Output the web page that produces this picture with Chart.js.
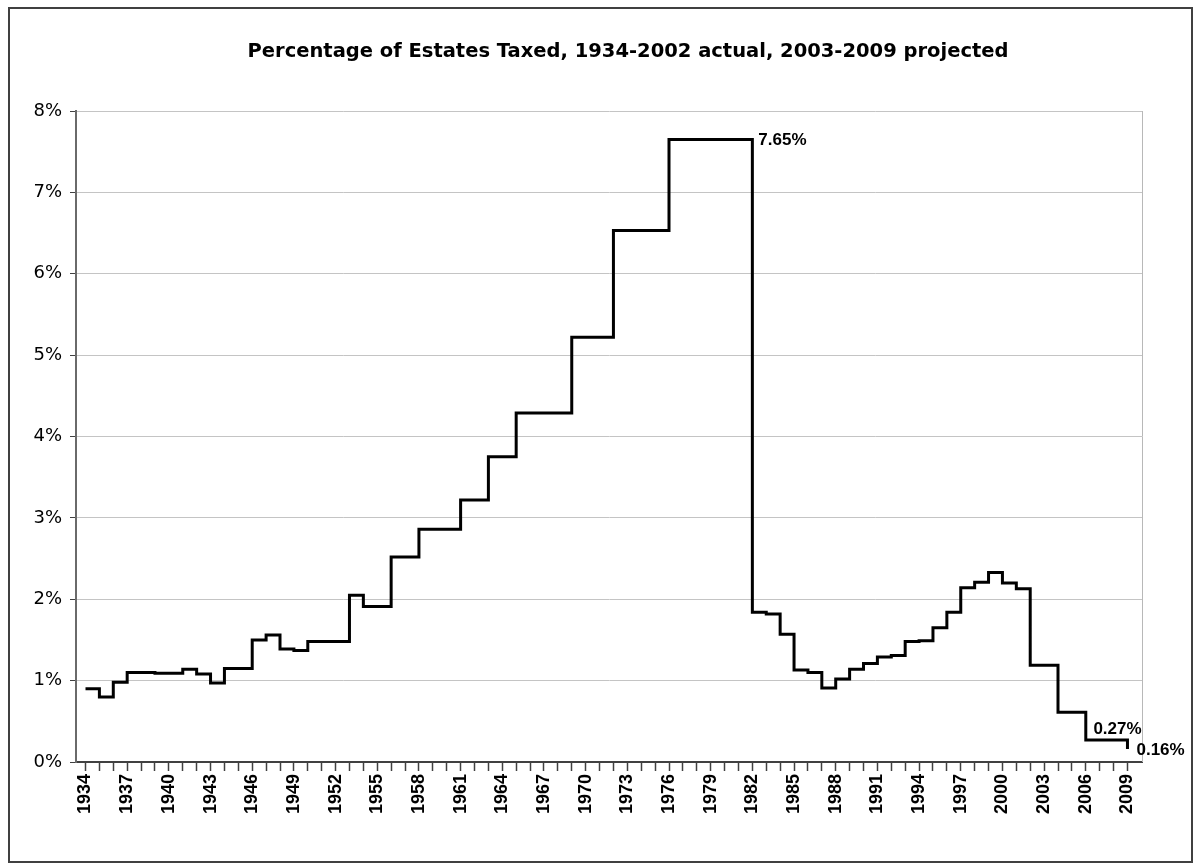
<!DOCTYPE html>
<html><head><meta charset="utf-8">
<script src="https://cdn.jsdelivr.net/npm/chart.js@4"></script>
<style>html,body{margin:0;padding:0;background:#fff}#wrap{position:relative;width:1196px;height:863px}</style>
</head><body><div id="wrap"><canvas id="c"></canvas></div>
<script>
const chartTitle = 'Percentage of Estates Taxed, 1934-2002 actual, 2003-2009 projected';
const years = [1934,1935,1936,1937,1938,1939,1940,1941,1942,1943,1944,1945,1946,1947,1948,1949,1950,1951,1952,1953,
  1954,1955,1956,1957,1958,1959,1960,1961,1962,1963,1964,1965,1966,1967,1968,1969,1970,1971,1972,1973,
  1974,1975,1976,1977,1978,1979,1980,1981,1982,1983,1984,1985,1986,1987,1988,1989,1990,1991,1992,1993,
  1994,1995,1996,1997,1998,1999,2000,2001,2002,2003,2004,2005,2006,2007,2008,2009];
const taxedPct = [0.90,0.80,0.98,1.10,1.10,1.09,1.09,1.14,1.08,0.97,1.15,1.15,1.50,1.56,1.39,1.37,1.48,1.48,1.48,2.05,
  1.91,1.91,2.52,2.52,2.86,2.86,2.86,3.22,3.22,3.75,3.75,4.29,4.29,4.29,4.29,5.22,5.22,5.22,6.53,6.53,
  6.53,6.53,7.65,7.65,7.65,7.65,7.65,7.65,1.84,1.82,1.57,1.13,1.10,0.91,1.02,1.14,1.21,1.29,1.31,1.48,
  1.49,1.65,1.84,2.14,2.21,2.33,2.20,2.13,1.19,1.19,0.61,0.61,0.27,0.27,0.27,0.16];
const yTickValues = [0,1,2,3,4,5,6,7,8];
const labelYearStep = 3;
const labelledYears = [1981, 2008, 2009];
const labelPlacement = ['stepEnd', 'above', 'right'];

const pctLabels = {
  id: 'pctLabels',
  afterDatasetsDraw(chart) {
    const {ctx, scales: {x, y}} = chart;
    ctx.save();
    ctx.font = 'bold 17px "Liberation Sans", Arial, sans-serif';
    ctx.fillStyle = '#000';
    labelledYears.forEach((yr, k) => {
      const i = years.indexOf(yr);
      const v = taxedPct[i];
      const txt = v.toFixed(2) + '%';
      const py = y.getPixelForValue(v);
      const mode = labelPlacement[k];
      if (mode === 'stepEnd') {
        ctx.textAlign = 'left'; ctx.textBaseline = 'middle';
        ctx.fillText(txt, x.getPixelForValue(years[i + 1]) + 6, py + 1);
      } else if (mode === 'above') {
        ctx.textAlign = 'center'; ctx.textBaseline = 'bottom';
        const mid = (x.getPixelForValue(yr) + x.getPixelForValue(years[i + 1])) / 2;
        ctx.fillText(txt, mid - 3, py - 2);
      } else {
        ctx.textAlign = 'left'; ctx.textBaseline = 'middle';
        ctx.fillText(txt, x.getPixelForValue(yr) + 9, py + 1);
      }
    });
    ctx.restore();
  }
};

const frame = {
  id: 'frame',
  beforeDraw(chart) {
    const ctx = chart.ctx;
    ctx.save();
    ctx.fillStyle = '#fff';
    ctx.fillRect(0, 0, chart.width, chart.height);
    ctx.restore();
  },
  beforeDatasetsDraw(chart) {
    const {ctx, chartArea: a} = chart;
    ctx.save();
    ctx.strokeStyle = '#b8b8b8';
    ctx.lineWidth = 1;
    ctx.beginPath();
    ctx.moveTo(a.right + 0.5, a.top);
    ctx.lineTo(a.right + 0.5, a.bottom);
    ctx.stroke();
    ctx.restore();
  },
  afterDraw(chart) {
    const ctx = chart.ctx;
    ctx.save();
    ctx.strokeStyle = '#404040';
    ctx.lineWidth = 2;
    ctx.strokeRect(9, 8, 1183, 854);
    ctx.fillStyle = '#000';
    ctx.font = 'bold 19.5px "DejaVu Sans", Verdana, sans-serif';
    ctx.textAlign = 'center';
    ctx.textBaseline = 'middle';
    ctx.fillText(chartTitle, 628, 52);
    ctx.restore();
  }
};

new Chart(document.getElementById('c'), {
  type: 'line',
  data: {
    datasets: [{
      data: taxedPct.map((v, i) => ({x: years[i], y: v})),
      borderColor: '#000',
      borderWidth: 3,
      stepped: 'before',
      pointRadius: 0,
      borderJoinStyle: 'miter',
      fill: false
    }]
  },
  options: {
    responsive: true,
    maintainAspectRatio: false,
    animation: false,
    devicePixelRatio: 1,
    layout: {padding: {top: 111, right: 54, left: 0, bottom: 0}},
    plugins: {legend: {display: false}, title: {display: false}, tooltip: {enabled: false}},
    scales: {
      x: {
        type: 'linear',
        min: 1933.316,
        max: 2010.046,
        afterBuildTicks: s => {
          s.ticks = years.map(v => ({value: v}));
        },
        afterFit: s => { s.height = 101; },
        ticks: {
          autoSkip: false,
          minRotation: 90,
          maxRotation: 90,
          padding: 3,
          color: '#000',
          font: {family: '"Liberation Sans", Arial, sans-serif', size: 18, weight: 'bold'},
          callback: v => ((v - years[0]) % labelYearStep === 0 ? String(v) : '')
        },
        grid: {drawOnChartArea: false, drawTicks: true, tickLength: 9, tickColor: '#404040', tickWidth: 1.5},
        border: {display: true, color: '#404040', width: 2}
      },
      y: {
        min: 0,
        max: 8,
        afterBuildTicks: s => { s.ticks = yTickValues.map(v => ({value: v})); },
        afterFit: s => { s.width = 76; },
        ticks: {
          padding: 8,
          color: '#000',
          font: {family: '"DejaVu Sans", Verdana, sans-serif', size: 18},
          callback: v => v + '%'
        },
        grid: {color: '#c4c4c4', lineWidth: 1, tickLength: 6, tickColor: '#404040'},
        border: {display: true, color: '#6a6a6a', width: 2}
      }
    }
  },
  plugins: [frame, pctLabels]
});
</script>
</body></html>
